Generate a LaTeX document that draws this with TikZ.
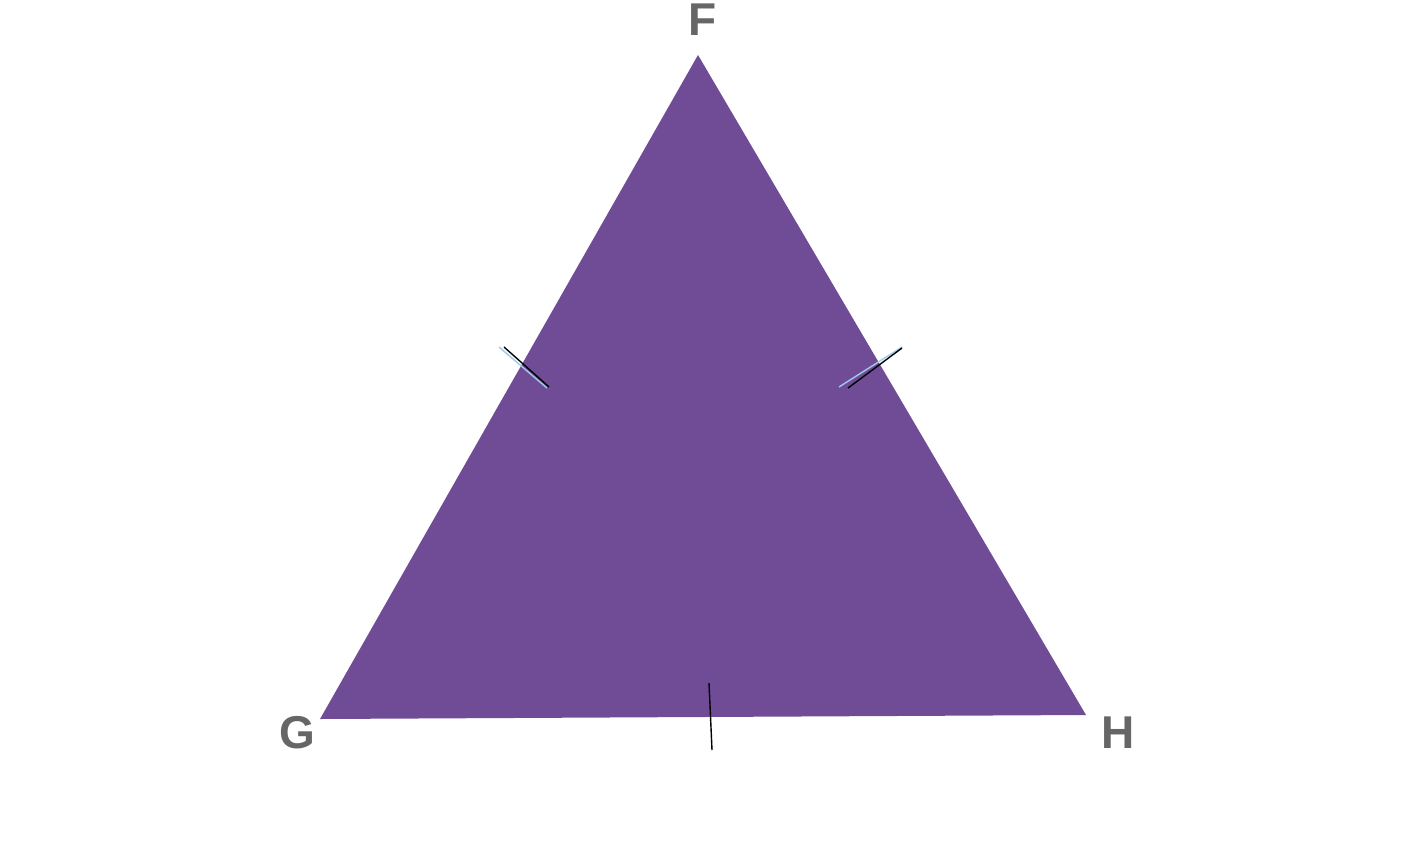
\documentclass[tikz,border=0pt]{standalone}
\usepackage{fontspec}
\setmainfont{Liberation Sans}
\definecolor{tripurple}{RGB}{112,76,151}
\definecolor{labelgray}{RGB}{102,102,102}
\definecolor{ticklight}{RGB}{160,200,235}
\begin{document}
\begin{tikzpicture}[x=0.5pt,y=-0.5pt,
    every node/.style={font=\fontsize{23}{23}\selectfont\bfseries,text=labelgray},
    tick/.style={black,line width=0.7pt},
    ticklite/.style={ticklight,line width=0.7pt}]
    \useasboundingbox (0,0) rectangle (1424,852);
    % vertices
    \coordinate (F) at (698,55);
    \coordinate (G) at (320,719);
    \coordinate (H) at (1086,715);
    \fill[tripurple] (F) -- (H) -- (G) -- cycle;
    % labels
    \node (lf) at (703,20) {F};
    \node (lg) at (297,733) {G};
    \node (lh) at (1118,733) {H};
    % tick marks
    \draw[ticklite] (499,347) -- (547,388);
    \draw[tick] (504,347) -- (549,387);
    \draw[ticklite] (839,387) -- (902,347);
    \draw[tick] (848,388) -- (902,348);
    \draw[tick] (709,683) -- (712,750);
\end{tikzpicture}
\end{document}
